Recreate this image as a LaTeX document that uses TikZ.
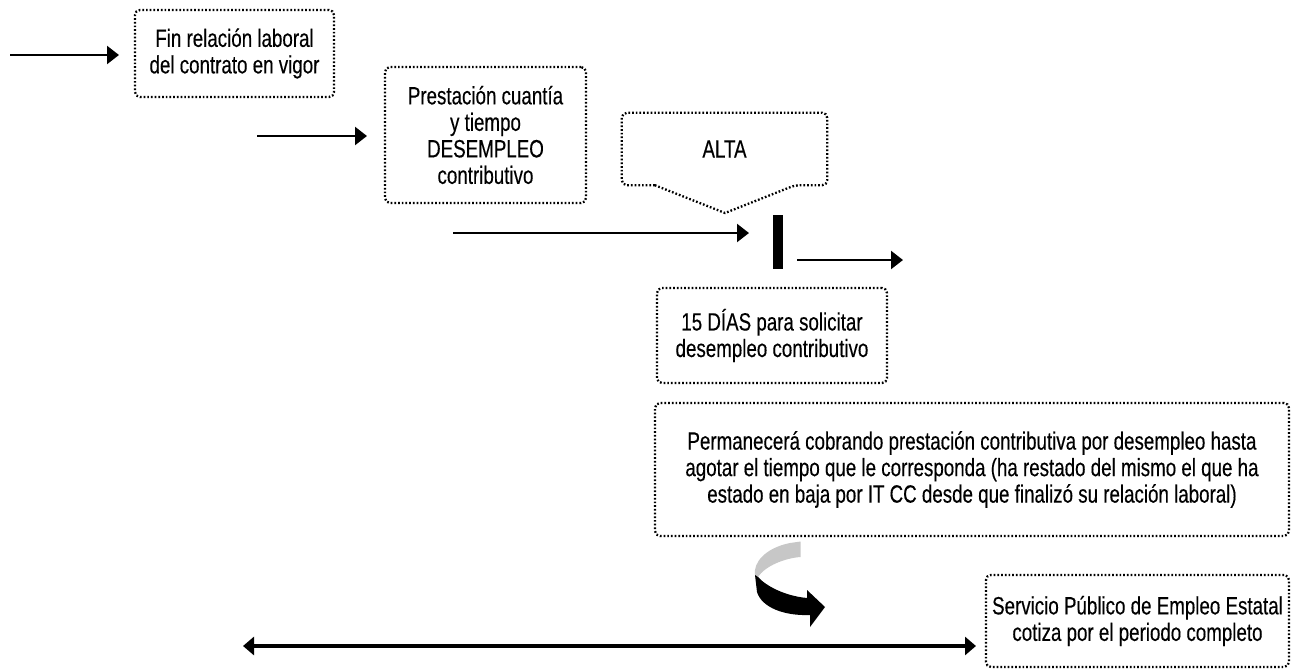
\documentclass[tikz,border=0pt]{standalone}
\usepackage{fontspec}
\setmainfont{Liberation Sans}[FakeStretch=0.75,FakeBold=0.3]
\usetikzlibrary{arrows.meta,calc}
\begin{document}
\begin{tikzpicture}[x=1pt,y=-1pt,
  dotline/.style={draw=black,line width=2.3pt,dash pattern=on 1.7pt off 2pt},
  txt/.style={inner sep=0pt,align=center,font=\fontsize{25}{26.5}\selectfont},
  box/.style={dotline,txt,rounded corners=5pt},
  flow/.style={line width=2.3pt,-{Triangle[length=12pt,width=18pt]}},
  both/.style={line width=3.4pt,{Triangle[length=11pt,width=18pt]}-{Triangle[length=11pt,width=18pt]}}]
\useasboundingbox (0,0) rectangle (1291,669);

% boxes
\node[box,minimum width=199pt,minimum height=87pt] (fin) at (234.5,53.5)
  {Fin relación laboral\\del contrato en vigor};
\node[box,minimum width=201pt,minimum height=136pt] (prest) at (485.5,135)
  {Prestación cuantía\\y tiempo\\DESEMPLEO\\contributivo};
\node[txt,minimum width=205pt,minimum height=72pt] (alta) at (724.5,149) {ALTA};
\node[box,minimum width=230pt,minimum height=95pt] (dias) at (772,335.5)
  {15 DÍAS para solicitar\\desempleo contributivo};
\node[box,minimum width=634pt,minimum height=133pt] (perm) at (972,469.5)
  {Permanecerá cobrando prestación contributiva por desempleo hasta\\
   agotar el tiempo que le corresponda (ha restado del mismo el que ha\\
   estado en baja por IT CC desde que finalizó su relación laboral)};
\node[box,minimum width=303pt,minimum height=92pt] (spee) at (1137.5,621)
  {Servicio Público de Empleo Estatal\\cotiza por el periodo completo};

% callout outline of the ALTA note, pointing down at the bar
\coordinate (altatip) at (725,213);
\draw[dotline] ($(alta.south west)+(33,0)$) [rounded corners=5pt]
  -- (alta.south west) -- (alta.north west) -- (alta.north east)
  -- (alta.south east) -- ($(alta.south east)+(-32,0)$) [sharp corners]
  -- (altatip) -- cycle;

% thick bar
\node[fill=black,minimum width=10pt,minimum height=54pt,inner sep=0pt] (bar) at (777.5,242) {};

% arrows
\coordinate (a1s) at (10,55);   \coordinate (a1e) at (119,55);
\coordinate (a2s) at (257,136); \coordinate (a2e) at (367,136);
\coordinate (a3s) at (453,233); \coordinate (a3e) at (749,233);
\coordinate (a4s) at (797,260); \coordinate (a4e) at (903,260);
\coordinate (a5s) at (243,646); \coordinate (a5e) at (976,646);
\draw[flow] (a1s) -- (a1e);
\draw[flow] (a2s) -- (a2e);
\draw[flow] (a3s) -- (a3e);
\draw[flow] (a4s) -- (a4e);
\draw[both] (a5s) -- (a5e);

% curved ribbon arrow: grey back face, black front face with head
\fill[black!22] (790,543) -- (800.5,541.5) -- (800.7,557)
  .. controls (785,558) and (765,566) .. (758,577)
  -- (755,575) .. controls (753,563) and (765,548) .. cycle;
\fill[black] (755,575) -- (758,577)
  .. controls (766,586) and (785,596) .. (807,598)
  -- (807,590) -- (825,607) -- (810,627) -- (810,615)
  .. controls (785,616) and (762,608) .. (757,592) -- cycle;
\end{tikzpicture}
\end{document}
